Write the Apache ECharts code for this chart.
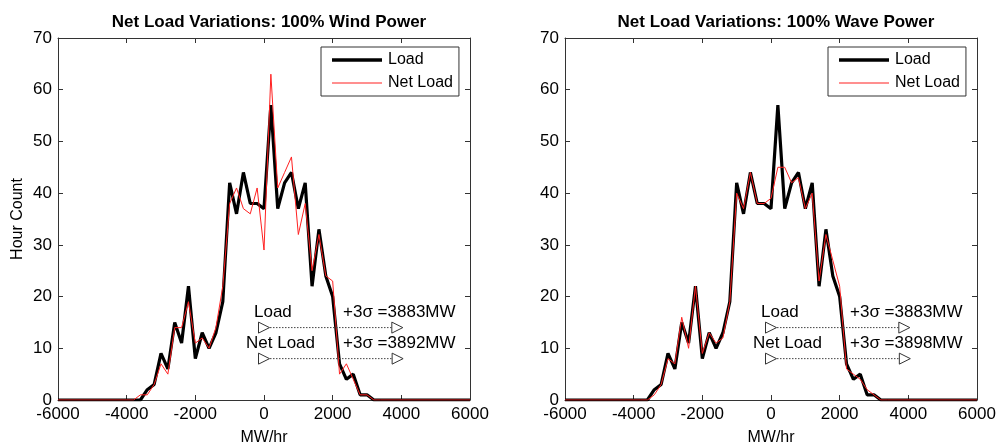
<!DOCTYPE html>
<html lang="en">
<head>
    <meta charset="UTF-8">
    <title>Net Load Variations</title>
    <script src="https://cdn.jsdelivr.net/npm/echarts@6/dist/echarts.min.js"></script>
    <style>
        html, body { margin: 0; padding: 0; background: #fff; }
        #main { width: 997px; height: 443px; }
    </style>
</head>
<body>
<div id="main"></div>
<script>
// bin centres (MW/hr), flat zero outside the shown range
var bins = [-6000, -3800, -3600, -3400, -3200, -3000, -2800, -2600, -2400, -2200, -2000,
    -1800, -1600, -1400, -1200, -1000, -800, -600, -400, -200, 0, 200, 400, 600, 800,
    1000, 1200, 1400, 1600, 1800, 2000, 2200, 2400, 2600, 2800, 3000, 3200, 3400, 6000];

// hour counts
var loadCounts = [0, 0, 0, 2, 3, 9, 6, 15, 11, 22, 8,
    13, 10, 13, 19, 42, 36, 44, 38, 38, 37, 57, 37, 42, 44,
    37, 42, 22, 33, 24, 20, 7, 4, 5, 1, 1, 0, 0, 0];
var windNetCounts = [0, 0, 1, 1, 3, 7, 5, 14, 14, 19, 11,
    12, 10, 14, 22, 38, 41, 37, 36, 41, 29, 63, 41, 44, 47,
    32, 38, 25, 32, 24, 23, 5, 7, 4, 1, 1, 0, 0, 0];
var waveNetCounts = [0, 0, 0, 1, 3, 8, 7, 16, 10, 22, 9,
    13, 11, 12, 19, 40, 37, 44, 38, 38, 39, 45, 45, 42, 43,
    37, 40, 23, 32, 27, 22, 6, 5, 4, 2, 1, 0, 0, 0];

var panelTitles = ['Net Load Variations: 100% Wind Power', 'Net Load Variations: 100% Wave Power'];
var loadSigma = [3883, 3883];
var netSigma = [3892, 3898];
var xTicks = [-6000, -4000, -2000, 0, 2000, 4000, 6000];

function pairs(xs, ys) {
    return xs.map(function (x, i) { return [x, ys[i]]; });
}

var font = 'Liberation Sans, Arial, sans-serif';
var axisColor = '#333';
var grids = [
    { left: 58, top: 38, width: 412, height: 362, outerBoundsMode: 'none' },
    { left: 565, top: 38, width: 412, height: 362, outerBoundsMode: 'none' }
];

var xAxes = [], yAxes = [], series = [], titles = [], legends = [], graphics = [];

grids.forEach(function (g, p) {
    // bottom and top x axes (box)
    [false, true].forEach(function (top) {
        xAxes.push({
            type: 'value', gridIndex: p, position: top ? 'top' : 'bottom',
            min: xTicks[0], max: xTicks[xTicks.length - 1], interval: 2000,
            name: top ? '' : 'MW/hr', nameLocation: 'middle', nameGap: 30,
            nameTextStyle: { fontFamily: font, fontSize: 16, color: '#000' },
            axisLine: { show: true, onZero: false, lineStyle: { color: axisColor, width: 1 } },
            axisTick: { show: true, inside: true, length: 5, lineStyle: { color: axisColor } },
            axisLabel: { show: !top, fontFamily: font, fontSize: 17, color: '#000', margin: 6,
                formatter: function (v) { return String(v); } },
            splitLine: { show: false }
        });
    });
    [false, true].forEach(function (right) {
        yAxes.push({
            type: 'value', gridIndex: p, position: right ? 'right' : 'left',
            min: 0, max: 70, interval: 10,
            name: (right || p === 1) ? '' : 'Hour Count', nameLocation: 'middle', nameGap: 32,
            nameTextStyle: { fontFamily: font, fontSize: 16, color: '#000' },
            axisLine: { show: true, onZero: false, lineStyle: { color: axisColor, width: 1 } },
            axisTick: { show: true, inside: true, length: 5, lineStyle: { color: axisColor } },
            axisLabel: { show: !right, fontFamily: font, fontSize: 17, color: '#000', margin: 6 },
            splitLine: { show: false }
        });
    });

    var xi = p * 2, yi = p * 2;
    series.push({
        name: 'Load', type: 'line', xAxisIndex: xi, yAxisIndex: yi,
        data: pairs(bins, loadCounts), symbol: 'none', silent: true,
        lineStyle: { color: '#000', width: 3.2 }, itemStyle: { color: '#000' }, z: 3
    });
    series.push({
        name: 'Net Load', type: 'line', xAxisIndex: xi, yAxisIndex: yi,
        data: pairs(bins, p === 0 ? windNetCounts : waveNetCounts), symbol: 'none', silent: true,
        lineStyle: { color: '#ff2020', width: 1 }, itemStyle: { color: '#ff2020' }, z: 4
    });
    // +3 sigma arrows from the mean
    [[loadSigma[p], 14], [netSigma[p], 8]].forEach(function (a) {
        series.push({
            type: 'line', xAxisIndex: xi, yAxisIndex: yi, silent: true,
            data: [[0, a[1]], [a[0], a[1]]],
            symbol: 'triangle', symbolSize: 11, symbolRotate: -90, showSymbol: true,
            lineStyle: { color: '#444', width: 1, type: [1.5, 1.5] },
            itemStyle: { color: '#fff', borderColor: '#333', borderWidth: 1 }, z: 5
        });
    });

    var cx = g.left + g.width * 0.5;
    titles.push({
        text: panelTitles[p], left: cx, top: 9, textAlign: 'center',
        textStyle: { fontFamily: font, fontSize: 17, fontWeight: 'bold', color: '#000' }
    });
    legends.push({
        data: [
            { name: 'Load', icon: 'path://M0,0L50,0L50,3.4L0,3.4Z', itemStyle: { color: '#000' } },
            { name: 'Net Load', icon: 'path://M0,0L50,0L50,1L0,1Z', itemStyle: { color: '#ff2020' } }
        ],
        orient: 'vertical',
        left: g.left + 263, top: 47,
        itemWidth: 50, itemHeight: 14, itemGap: 7,
        padding: [5, 6, 5, 11],
        borderColor: '#333', borderWidth: 1, backgroundColor: '#fff',
        selectedMode: false,
        textStyle: { fontFamily: font, fontSize: 16, color: '#000', padding: [0, 0, 0, 1] }
    });
    var zx = g.left + g.width * 0.5; // x = 0 sits mid-plot
    var ts = { fontFamily: font, fontSize: 17, fill: '#000' };
    graphics.push({ type: 'text', left: zx - 10, top: 304, style: Object.assign({ text: 'Load' }, ts) });
    graphics.push({ type: 'text', left: zx + 79, top: 304, style: Object.assign({ text: '+3\u03c3 =' + loadSigma[p] + 'MW' }, ts) });
    graphics.push({ type: 'text', left: zx - 18, top: 335, style: Object.assign({ text: 'Net Load' }, ts) });
    graphics.push({ type: 'text', left: zx + 79, top: 335, style: Object.assign({ text: '+3\u03c3 =' + netSigma[p] + 'MW' }, ts) });
});

var myChart = echarts.init(document.getElementById('main'));
myChart.setOption({
    animation: false,
    backgroundColor: '#fff',
    title: titles,
    legend: legends,
    grid: grids,
    xAxis: xAxes,
    yAxis: yAxes,
    series: series,
    graphic: graphics
});
</script>
</body>
</html>
